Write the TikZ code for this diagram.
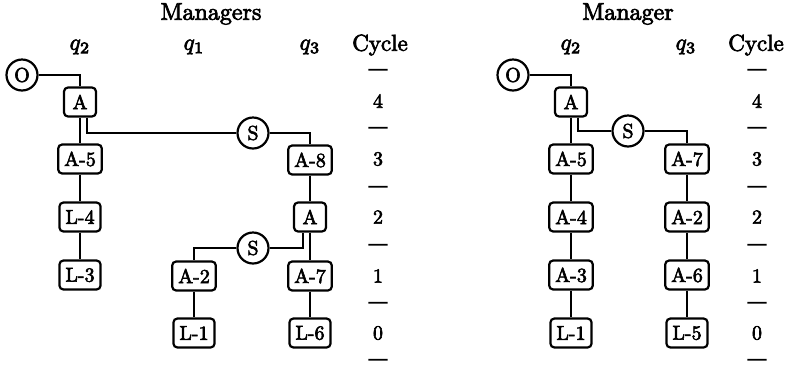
\documentclass[tikz,border=0pt]{standalone}
\usepackage{tikz}
\usepackage{graphicx}
\newcommand{\hv}[1]{\special{pdf:literal direct 2 Tr 0.3 w}#1\special{pdf:literal direct 0 Tr 2.2 w}}
\newcommand{\bx}[1]{\scalebox{2.0}{\hv{#1}}}
\newcommand{\tx}[1]{\scalebox{2.4}{\hv{#1}}}
\newcommand{\hx}[1]{\scalebox{2.3}{\hv{#1}}}
\newcommand{\dx}{\scalebox{1.8}{\special{pdf:literal direct 2 Tr 0.8 w}---\special{pdf:literal direct 0 Tr 2.2 w}}}
\begin{document}
\begin{tikzpicture}[x=1pt,y=-1pt,
  box/.style={draw,line width=2.2pt,rounded corners=4pt,minimum height=29pt,minimum width=32pt,inner xsep=6pt,inner ysep=0pt,font=\fontsize{10}{12}\selectfont},
  circ/.style={draw,circle,line width=2.2pt,minimum size=31pt,inner sep=0pt,font=\fontsize{10}{12}\selectfont},
  lbl/.style={inner sep=0pt,font=\fontsize{10}{12}\selectfont},
  conn/.style={draw,line width=2.2pt}]
\useasboundingbox (0,0) rectangle (789,368);
% ---------- left panel ----------
\node[lbl] (tL) at (211,14) {\tx{Managers}};
\node[lbl] (q2L) at (80,47) {\hx{$q_2$}};
\node[lbl] (q1L) at (194,47) {\hx{$q_1$}};
\node[lbl] (q3L) at (310,47) {\hx{$q_3$}};
\node[lbl] (cyL) at (380,45) {\hx{Cycle}};
\node[circ] (OL) at (22,75) {\bx{O}};
\node[box] (AL) at (80,102) {\bx{A}};
\node[circ] (S1L) at (253,133) {\bx{S}};
\node[box] (A5L) at (80,159) {\bx{A-5}};
\node[box] (A8L) at (310,160) {\bx{A-8}};
\node[box] (L4L) at (80,217) {\bx{L-4}};
\node[box] (AqL) at (310,217) {\bx{A}};
\node[circ] (S2L) at (253,248) {\bx{S}};
\node[box] (L3L) at (80,275) {\bx{L-3}};
\node[box] (A2L) at (194,276) {\bx{A-2}};
\node[box] (A7L) at (310,276) {\bx{A-7}};
\node[box] (L1L) at (194,333) {\bx{L-1}};
\node[box] (L6L) at (310,333) {\bx{L-6}};
\draw[conn] (OL.east) -| (AL.north);
\draw[conn] (AL.south) -- (A5L.north);
\draw[conn] ([xshift=7pt]AL.south) |- (S1L.west);
\draw[conn] (S1L.east) -| (A8L.north);
\draw[conn] (A8L.south) -- (AqL.north);
\draw[conn] (AqL.south) -- (A7L.north);
\draw[conn] (A7L.south) -- (L6L.north);
\draw[conn] (S2L.east) -| ([xshift=-7pt]AqL.south);
\draw[conn] (S2L.west) -| (A2L.north);
\draw[conn] (A2L.south) -- (L1L.north);
\draw[conn] (A5L.south) -- (L4L.north);
\draw[conn] (L4L.south) -- (L3L.north);
% cycle column left
\foreach \y/\n in {72/a,130/b,189/c,247/d,305/e,362/f}{\node[lbl] (dL\n) at (378,\y) {\dx};}
\foreach \y/\t in {101/4,159/3,217/2,276/1,333/0}{\node[lbl] (nL\t) at (378,\y) {\bx{\t}};}
% ---------- right panel ----------
\node[lbl] (tR) at (628,14) {\tx{Manager}};
\node[lbl] (q2R) at (571,47) {\hx{$q_2$}};
\node[lbl] (q3R) at (686,47) {\hx{$q_3$}};
\node[lbl] (cyR) at (756,45) {\hx{Cycle}};
\node[circ] (OR) at (513,75) {\bx{O}};
\node[box] (AR) at (571,102) {\bx{A}};
\node[circ] (SR) at (628,131) {\bx{S}};
\node[box] (A5R) at (571,159) {\bx{A-5}};
\node[box] (A7R) at (687,159) {\bx{A-7}};
\node[box] (A4R) at (571,217) {\bx{A-4}};
\node[box] (A2R) at (687,217) {\bx{A-2}};
\node[box] (A3R) at (571,275) {\bx{A-3}};
\node[box] (A6R) at (687,275) {\bx{A-6}};
\node[box] (L1R) at (571,333) {\bx{L-1}};
\node[box] (L5R) at (687,333) {\bx{L-5}};
\draw[conn] (OR.east) -| (AR.north);
\draw[conn] (AR.south) -- (A5R.north);
\draw[conn] ([xshift=7pt]AR.south) |- (SR.west);
\draw[conn] (SR.east) -| (A7R.north);
\draw[conn] (A5R.south) -- (A4R.north);
\draw[conn] (A4R.south) -- (A3R.north);
\draw[conn] (A3R.south) -- (L1R.north);
\draw[conn] (A7R.south) -- (A2R.north);
\draw[conn] (A2R.south) -- (A6R.north);
\draw[conn] (A6R.south) -- (L5R.north);
\foreach \y/\n in {72/a,130/b,189/c,247/d,305/e,362/f}{\node[lbl] (dR\n) at (757,\y) {\dx};}
\foreach \y/\t in {101/4,159/3,217/2,276/1,333/0}{\node[lbl] (nR\t) at (757,\y) {\bx{\t}};}
\end{tikzpicture}
\end{document}
